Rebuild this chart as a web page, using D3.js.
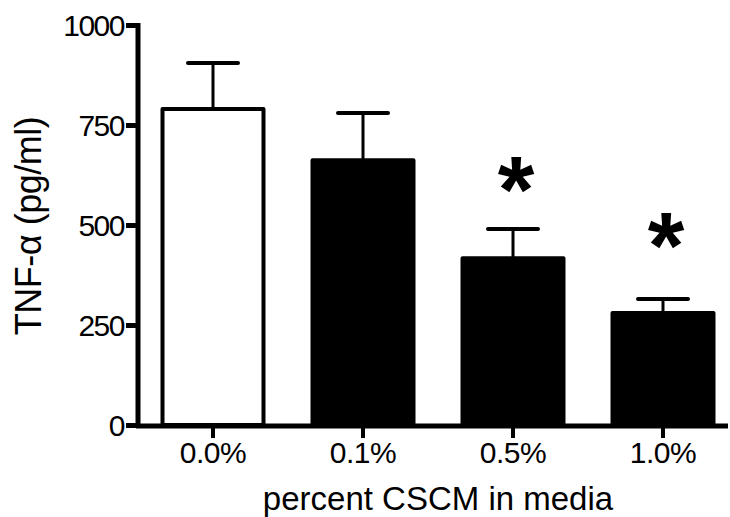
<!DOCTYPE html>
<html><head><meta charset="utf-8">
<script src="https://cdn.jsdelivr.net/npm/d3@7"></script>
<style>body{margin:0;background:#fff}svg{display:block}text{font-family:"Liberation Sans",Arial,sans-serif;fill:#000}</style>
</head><body><svg id="c" width="730" height="517"></svg>
<script>
const categories = ["0.0%", "0.1%", "0.5%", "1.0%"];
const means = [790, 662, 417, 280];
const errTops = [905, 780, 490, 315];
const fills = ["white", "black", "black", "black"];
const starLevels = [null, null, 620, 480];
const yTicks = [0, 250, 500, 750, 1000];

const svg = d3.select("#c");
const x = d3.scaleBand().domain(categories).range([138, 738]).paddingInner(0.3).paddingOuter(0.15);
const y = d3.scaleLinear().domain([0, 1000]).range([425, 25]);

// bars
svg.selectAll("rect.bar").data(categories).join("rect")
  .attr("x", (d,i) => x(d) + 2).attr("width", x.bandwidth() - 4)
  .attr("y", (d,i) => y(means[i])).attr("height", (d,i) => y(0) - y(means[i]))
  .attr("fill", (d,i) => fills[i]).attr("stroke", "black").attr("stroke-width", 4)
  .attr("stroke-linejoin", "round");

// error bars
const cx = d => x(d) + x.bandwidth()/2;
svg.selectAll("line.stem").data(categories).join("line")
  .attr("x1", cx).attr("x2", cx)
  .attr("y1", (d,i) => y(means[i])).attr("y2", (d,i) => y(errTops[i]))
  .attr("stroke", "black").attr("stroke-width", 3);
svg.selectAll("line.cap").data(categories).join("line")
  .attr("x1", d => cx(d) - 25).attr("x2", d => cx(d) + 25)
  .attr("y1", (d,i) => y(errTops[i])).attr("y2", (d,i) => y(errTops[i]))
  .attr("stroke", "black").attr("stroke-width", 4).attr("stroke-linecap", "round");

// asterisks
svg.selectAll("text.star").data(categories.filter((d,i) => starLevels[i] !== null)).join("text")
  .attr("x", d => cx(d) + 3)
  .attr("y", d => y(starLevels[categories.indexOf(d)]) + 45)
  .attr("text-anchor", "middle").style("font-size", "94px").style("font-weight", "bold")
  .text("*");

// y axis
const yAxis = svg.append("g").attr("transform", "translate(138,0)")
  .call(d3.axisLeft(y).tickValues(yTicks).tickSize(12).tickPadding(2).tickFormat(d3.format("d")));
yAxis.select(".domain").attr("d", "M0," + (y(1000)-2) + "V" + (y(0)+3)).attr("stroke-width", 5);
yAxis.selectAll(".tick line").attr("stroke-width", 5);
yAxis.selectAll(".tick text").style("font-size", "30px").style("letter-spacing", "-1.5px").attr("dy", "0.36em");

// x axis
const xAxis = svg.append("g").attr("transform", "translate(0,426)")
  .call(d3.axisBottom(x).tickSize(12).tickPadding(4));
xAxis.select(".domain").attr("d", "M136,0H728").attr("stroke-width", 5);
xAxis.selectAll(".tick line").attr("stroke-width", 4);
xAxis.selectAll(".tick text").style("font-size", "30px").style("letter-spacing", "-0.5px");

// titles
svg.append("text").attr("x", 438).attr("y", 510).attr("text-anchor", "middle")
  .style("font-size", "33px").style("letter-spacing", "0px").text("percent CSCM in media");
svg.append("text").attr("transform", "translate(41,226) rotate(-90)").attr("text-anchor", "middle")
  .style("font-size", "36px").style("letter-spacing", "-0.5px").text("TNF-α (pg/ml)");
</script></body></html>
